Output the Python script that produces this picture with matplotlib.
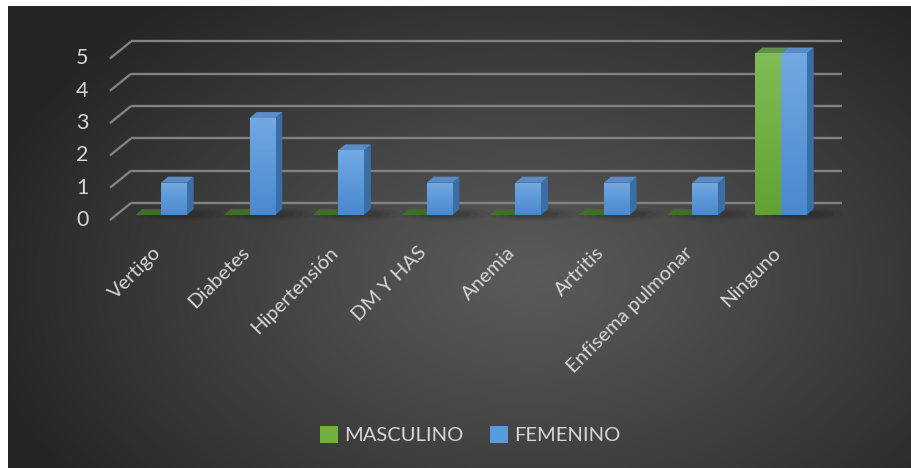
import numpy as np
import matplotlib.pyplot as plt
from matplotlib.patches import Polygon, Ellipse, Rectangle
import matplotlib.colors as mcolors

categorias = ["Vertigo", "Diabetes", "Hipertensión", "DM Y HAS", "Anemia",
              "Artritis", "Enfisema pulmonar", "Ninguno"]
masculino = [0, 0, 0, 0, 0, 0, 0, 5]
femenino = [1, 3, 2, 1, 1, 1, 1, 5]
ticks = [0, 1, 2, 3, 4, 5]
series = ["MASCULINO", "FEMENINO"]

plt.rcParams['font.family'] = ['Lato', 'DejaVu Sans']
TXT = '#d6d6d6'

W, H = 912, 468
fig = plt.figure(figsize=(W / 100, H / 100), dpi=100)
fig.patch.set_facecolor('white')

# --- dark radial-gradient panel -------------------------------------------
bg = fig.add_axes([8 / W, 0, (W - 8) / W, (H - 6) / H])
bg.set_axis_off()
ny, nx = H - 6, W - 8
yy, xx = np.mgrid[0:ny, 0:nx]
cx, cy = 520, 270
r = np.sqrt(((xx - cx) / 560) ** 2 + ((yy - cy) / 360) ** 2)
r = np.clip(r, 0, 1) ** 1.1
lo, hi = 0x25 / 255, 0x5a / 255
g = hi - (hi - lo) * r
bg.imshow(np.dstack([g, g, g]), aspect='auto', extent=[0, 1, 0, 1],
          interpolation='bilinear')
bg.set_xlim(0, 1)
bg.set_ylim(0, 1)

# --- chart axes (x: category index, y: value) -----------------------------
SX, SY = 88.57, 32.3          # pixels per category / per unit
X0, Y0 = 161, 215             # pixel position of category 0, value 0
ax = fig.add_axes([0, 0, 1, 1])
ax.patch.set_alpha(0)
ax.set_axis_off()

# depth of the 3-D look, in data units
DX, DY = 7 / SX, 6 / SY
WALL_DX, WALL_DY = 30 / SX, 12 / SY     # back wall offset from bar plane
FRONT_DX, FRONT_DY = 51 / SX, -5 / SY   # front edge of the side wall
right_end = (842 - X0) / SX

grid_c = '#828282'
for v in ticks:
    xb = -WALL_DX
    ax.plot([xb, right_end], [v + WALL_DY, v + WALL_DY], color=grid_c,
            lw=1.7, solid_capstyle='butt', zorder=1)
    ax.plot([-FRONT_DX, xb], [v + FRONT_DY, v + WALL_DY], color=grid_c,
            lw=1.7, solid_capstyle='butt', zorder=1)
    ax.text(-FRONT_DX - 0.24, v + FRONT_DY, str(v), ha='right', va='center',
            color=TXT, fontsize=15.5)

# soft shadows under the bars
for i in range(len(categorias)):
    for w, h, a in [(1.0, 0.45, 0.05), (0.8, 0.33, 0.07), (0.6, 0.22, 0.09)]:
        ax.add_patch(Ellipse((i + 0.2, 0.02), w, h, color='black',
                             alpha=a, lw=0, zorder=2))

BW = 0.29


def bar3d(x0, v, top_c, bot_c, side_c, lid_c, z):
    x1 = x0 + BW
    if v <= 0:
        ax.add_patch(Polygon([[x0, 0], [x1, 0], [x1 + DX, DY], [x0 + DX, DY]],
                             closed=True, color=lid_c, lw=0, zorder=z))
        return
    ax.add_patch(Polygon([[x1, 0], [x1 + DX, DY], [x1 + DX, v + DY], [x1, v]],
                         closed=True, color=side_c, lw=0, zorder=z))
    ax.add_patch(Polygon([[x0, v], [x1, v], [x1 + DX, v + DY], [x0 + DX, v + DY]],
                         closed=True, color=lid_c, lw=0, zorder=z))
    cmap = mcolors.LinearSegmentedColormap.from_list('f', [bot_c, top_c])
    grad = np.linspace(0, 1, 64).reshape(-1, 1)
    im = ax.imshow(grad, cmap=cmap, aspect='auto', origin='lower',
                   extent=[x0, x1, 0, v], zorder=z, interpolation='bilinear')
    im.set_clip_path(Rectangle((x0, 0), BW, v, transform=ax.transData))


for i, (m, f) in enumerate(zip(masculino, femenino)):
    bar3d(i - BW, m, '#80bc57', '#62a233', '#4d7f2c',
          '#3f6e27' if m == 0 else '#5f9148', 3 + i * 0.01)
    bar3d(i, f, '#72a9e2', '#4989cf', '#3b6ea7', '#5a8dc7', 3.005 + i * 0.01)

ax.set_xlim(-X0 / SX, (W - X0) / SX)
ax.set_ylim((Y0 - H) / SY, Y0 / SY)

# category labels
for i, c in enumerate(categorias):
    ax.text(i - 0.03, (Y0 - 250) / SY, c, rotation=45, rotation_mode='anchor',
            ha='right', va='center', color=TXT, fontsize=14.5)

# legend
handles = [Rectangle((0, 0), 1, 1, facecolor='#6fb042', lw=0),
           Rectangle((0, 0), 1, 1, facecolor='#559bdf', lw=0)]
fig.legend(handles, series, loc='center', bbox_to_anchor=(470 / W, 1 - 435 / H),
           ncol=2, frameon=False, handlelength=0.9, handleheight=0.9,
           handletextpad=0.3, columnspacing=1.3, fontsize=14.5,
           labelcolor=TXT)

fig.savefig('out.png', dpi=100, facecolor='white')
